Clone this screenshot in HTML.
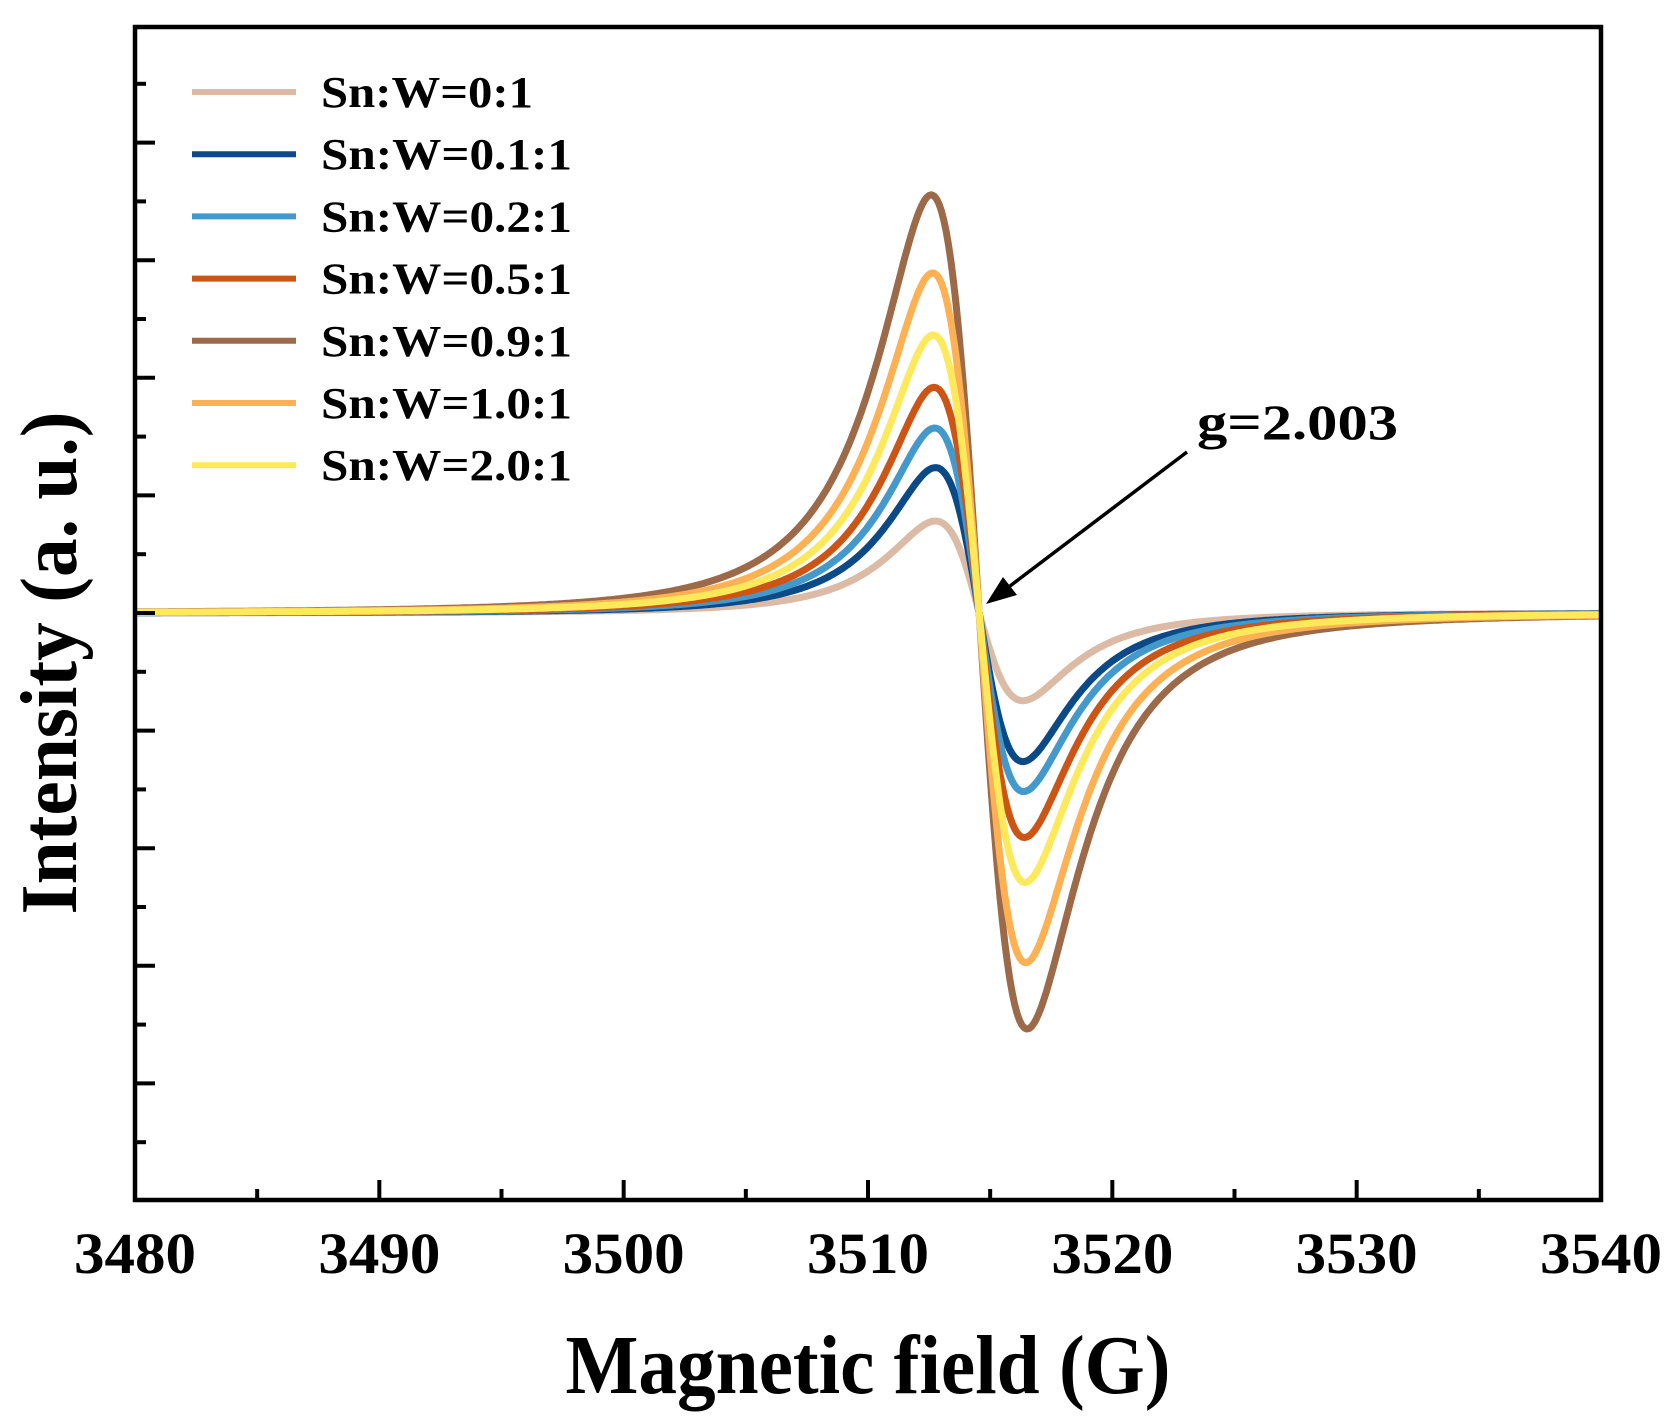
<!DOCTYPE html>
<html><head><meta charset="utf-8"><style>
html,body{margin:0;padding:0;background:#fff}
svg{display:block}
text{font-family:"Liberation Serif",serif;font-weight:bold;fill:#000}
</style></head><body>
<svg id="chart" width="1677" height="1426" viewBox="0 0 1677 1426" xmlns="http://www.w3.org/2000/svg">
<g id="curves"></g>
<g id="axes"></g>
<g id="legend"></g>
<text x="1197" y="439" font-size="50" textLength="201" lengthAdjust="spacingAndGlyphs">g=2.003</text>
<line x1="1187" y1="452" x2="1010" y2="586" stroke="#000" stroke-width="3.5"/>
<polygon points="986,604 1003,577 1017,595" fill="#000"/>
<text x="868" y="1393" font-size="84" text-anchor="middle" textLength="605" lengthAdjust="spacingAndGlyphs">Magnetic field (G)</text>
<text transform="translate(76,663) rotate(-90)" font-size="80" text-anchor="middle" textLength="503" lengthAdjust="spacingAndGlyphs">Intensity (a. u.)</text>
</svg>
<script>
const seriesNames = ["Sn:W=0:1","Sn:W=0.1:1","Sn:W=0.2:1","Sn:W=0.5:1","Sn:W=0.9:1","Sn:W=1.0:1","Sn:W=2.0:1"];
const seriesColors = ["#dcbba6","#0b4a86","#4499cc","#cc5516","#9c6a48","#fdb153","#fde95a"];
const peakValues = [86,136,173,211,391,318,260];
const troughValues = [82,139,167,210,389,327,252];
const linewidths = [3.1,3.1,3.15,3.2,3.4,3.3,3.25];
const xTicks = [3480,3490,3500,3510,3520,3530,3540];
const center = 3514.55;

const L=135,R=1601,T=27,B=1200,Y0=613;
const NS="http://www.w3.org/2000/svg";
const xs = v => L+(v-3480)/60*(R-L);
const ys = v => Y0 - v*1.0695;
function mk(tag,attrs,parent){const e=document.createElementNS(NS,tag);for(const k in attrs)e.setAttribute(k,attrs[k]);parent.appendChild(e);return e;}

const curves=document.getElementById('curves');
const norm = 0.6495;
seriesNames.forEach((nm,i)=>{
  let d="";
  for(let f=3480;f<=3540.001;f+=0.1){
    const u=(f-center)/(linewidths[i]);
    const shape = -2*u/Math.pow(1+u*u,2)/norm;
    const amp = shape>0?peakValues[i]:troughValues[i];
    const v = shape*amp;
    d += (d?"L":"M")+xs(f).toFixed(1)+","+ys(v).toFixed(1);
  }
  const p=mk('path',{d:d,fill:"none",stroke:seriesColors[i],"stroke-width":7,"stroke-linejoin":"round"},curves);
  
  
});

const axes=document.getElementById('axes');
const fr=mk('rect',{x:L,y:T,width:R-L,height:B-T,fill:"none",stroke:"#000","stroke-width":4.5},axes);


xTicks.forEach((t,i)=>{
  const x=xs(t);
  const tk=mk('line',{x1:x,y1:B,x2:x,y2:B-20,stroke:"#000","stroke-width":4},axes);
  
  
  const lb=mk('text',{x:x,y:1273,"font-size":58,"text-anchor":"middle",textLength:122,lengthAdjust:"spacingAndGlyphs"},axes);
  lb.textContent=t;
  
  
  if(i<xTicks.length-1){
    const xm=xs(t+5);
    const mt=mk('line',{x1:xm,y1:B,x2:xm,y2:B-11,stroke:"#000","stroke-width":4},axes);
    
    
  }
});
for(let k=-4;k<=4;k++){
  const y=Y0+k*117.6;
  const tk=mk('line',{x1:L,y1:y,x2:L+20,y2:y,stroke:"#000","stroke-width":4},axes);
  
  
}
for(let k=-5;k<=4;k++){
  const y=Y0+(k+0.5)*117.6;
  const tk=mk('line',{x1:L,y1:y,x2:L+11,y2:y,stroke:"#000","stroke-width":4},axes);
  
  
}

const lg=document.getElementById('legend');
seriesNames.forEach((nm,i)=>{
  const y=92+i*62.2;
  const ln=mk('line',{x1:192,y1:y,x2:296,y2:y,stroke:seriesColors[i],"stroke-width":6},lg);
  
  
  const tx=mk('text',{x:321,y:y+15,"font-size":44,textLength:(i===0?212:251),lengthAdjust:"spacingAndGlyphs"},lg);
  tx.textContent=nm;
  
  
});
</script>
</body></html>
